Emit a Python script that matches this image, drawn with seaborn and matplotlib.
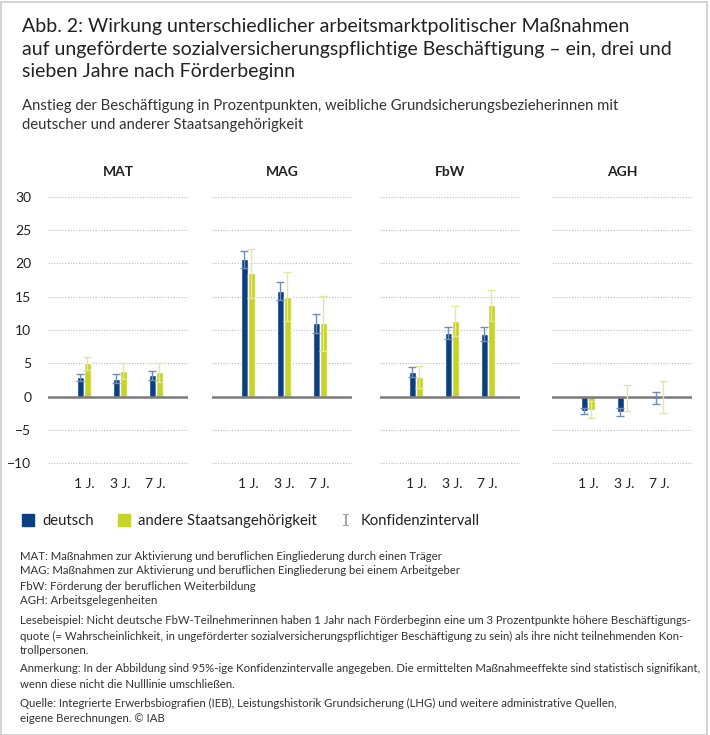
import matplotlib
matplotlib.use('Agg')
import matplotlib.pyplot as plt
import seaborn as sns
import pandas as pd
from matplotlib.lines import Line2D
from matplotlib.patches import Rectangle

# Daten
massnahmen = ["MAT", "MAG", "FbW", "AGH"]
jahre = ["1 J.", "3 J.", "7 J."]
gruppen = ["deutsch", "andere Staatsangehörigkeit"]

deutsch_wert = [2.9, 2.7, 3.2, 20.6, 15.9, 11.0, 3.7, 9.55, 9.4, -2.15, -2.3, -0.4]
deutsch_lo = [2.4, 2.1, 2.5, 19.3, 14.5, 9.6, 3.0, 8.6, 8.4, -2.65, -2.85, -1.15]
deutsch_hi = [3.4, 3.35, 3.9, 21.9, 17.25, 12.35, 4.4, 10.5, 10.4, -1.65, -1.75, 0.65]

andere_wert = [5.0, 3.85, 3.65, 18.5, 15.0, 11.0, 2.95, 11.3, 13.7, -1.95, -0.3, -0.2]
andere_lo = [4.0, 2.7, 2.2, 14.85, 11.35, 6.85, 1.35, 9.05, 11.4, -3.25, -2.2, -2.4]
andere_hi = [6.0, 5.0, 5.1, 22.15, 18.65, 15.15, 4.55, 13.55, 16.0, -0.65, 1.7, 2.35]

y_ticks = [30, 25, 20, 15, 10, 5, 0, -5, -10]

farben = ["#0b3f80", "#c5d32b"]
ci_farben = ["#6f8db8", "#e3e99a"]

rows = []
for i, m in enumerate(massnahmen):
    for j, jahr in enumerate(jahre):
        k = i * 3 + j
        rows.append((m, jahr, gruppen[0], deutsch_wert[k], deutsch_lo[k], deutsch_hi[k]))
        rows.append((m, jahr, gruppen[1], andere_wert[k], andere_lo[k], andere_hi[k]))
df = pd.DataFrame(rows, columns=["massnahme", "jahr", "gruppe", "wert", "lo", "hi"])

sns.set_style("white")
plt.rcParams['font.family'] = ['Lato', 'DejaVu Sans']
textfarbe = "#222222"

fig = plt.figure(figsize=(7.1, 7.35), dpi=100)
W, H = 710, 735

def px_axes(x0, y0, w, h):
    return fig.add_axes([x0 / W, 1 - (y0 + h) / H, w / W, h / H])

panel_x = [48, 212, 380, 552]
for i, m in enumerate(massnahmen):
    ax = px_axes(panel_x[i], 190, 140, 280)
    sub = df[df.massnahme == m]
    sns.barplot(data=sub, x="jahr", y="wert", hue="gruppe", order=jahre, hue_order=gruppen,
                palette=farben, width=0.4, errorbar=None, saturation=1, legend=False, ax=ax)
    bar_conts = list(ax.containers)
    for g, cont in enumerate(bar_conts):
        gsub = sub[sub.gruppe == gruppen[g]].set_index("jahr").loc[jahre]
        xs = [b.get_x() + b.get_width() / 2 for b in cont]
        ys = gsub["wert"].values
        err = [ys - gsub["lo"].values, gsub["hi"].values - ys]
        ax.errorbar(xs, ys, yerr=err, fmt="none", ecolor=ci_farben[g], elinewidth=1,
                    capsize=3, capthick=1, zorder=4)
    ax.set_xlim(-1.0, 2.9)
    ax.set_ylim(-11, 31)
    ax.set_yticks(y_ticks)
    for t in y_ticks:
        if t != 0:
            ax.axhline(t, color="#bbbbbb", lw=0.8, ls=(0, (1, 1.5)), zorder=0)
    ax.axhline(0, color="#7a7a7a", lw=1.8, zorder=3)
    ax.set_xlabel("")
    ax.set_ylabel("")
    ax.tick_params(length=0, labelsize=10, colors=textfarbe, pad=6)
    if i > 0:
        ax.set_yticklabels([])
    else:
        ax.tick_params(axis="y", pad=12)
    for s in ax.spines.values():
        s.set_visible(False)
    ax.set_title(m, fontsize=10, fontweight="bold", color=textfarbe, pad=10)

# Titel
fig.text(22 / W, 1 - 18 / H,
         "Abb. 2: Wirkung unterschiedlicher arbeitsmarktpolitischer Maßnahmen\n"
         "auf ungeförderte sozialversicherungspflichtige Beschäftigung – ein, drei und\n"
         "sieben Jahre nach Förderbeginn",
         fontsize=14, color=textfarbe, va="top", ha="left", linespacing=1.4)
fig.text(22 / W, 1 - 99 / H,
         "Anstieg der Beschäftigung in Prozentpunkten, weibliche Grundsicherungsbezieherinnen mit\n"
         "deutscher und anderer Staatsangehörigkeit",
         fontsize=10.7, color="#333333", va="top", ha="left", linespacing=1.45)

# Legende
handles = [
    Line2D([], [], marker="s", ls="none", markersize=9, color=farben[0]),
    Line2D([], [], marker="s", ls="none", markersize=9, color=farben[1]),
    Line2D([], [], marker="$\\mathtt{I}$", ls="none", markersize=9, color="#aaaaaa",
           markeredgewidth=0),
]
fig.legend(handles, gruppen + ["Konfidenzintervall"], loc="center left",
           bbox_to_anchor=(15 / W, 1 - 521 / H), ncol=3, frameon=False, fontsize=10.7,
           handlelength=1.0, handletextpad=0.45, columnspacing=1.5, labelcolor=textfarbe,
           borderaxespad=0)

# Fußnoten
fuss = [
    (556, "MAT: Maßnahmen zur Aktivierung und beruflichen Eingliederung durch einen Träger"),
    (571, "MAG: Maßnahmen zur Aktivierung und beruflichen Eingliederung bei einem Arbeitgeber"),
    (586, "FbW: Förderung der beruflichen Weiterbildung"),
    (601, "AGH: Arbeitsgelegenheiten"),
    (620, "Lesebeispiel: Nicht deutsche FbW-Teilnehmerinnen haben 1 Jahr nach Förderbeginn eine um 3 Prozentpunkte höhere Beschäftigungs-"),
    (636, "quote (= Wahrscheinlichkeit, in ungeförderter sozialversicherungspflichtiger Beschäftigung zu sein) als ihre nicht teilnehmenden Kon-"),
    (651, "trollpersonen."),
    (669, "Anmerkung: In der Abbildung sind 95%-ige Konfidenzintervalle angegeben. Die ermittelten Maßnahmeeffekte sind statistisch signifikant,"),
    (684, "wenn diese nicht die Nulllinie umschließen."),
    (703, "Quelle: Integrierte Erwerbsbiografien (IEB), Leistungshistorik Grundsicherung (LHG) und weitere administrative Quellen,"),
    (718, "eigene Berechnungen. © IAB"),
]
for y, t in fuss:
    fig.text(20 / W, 1 - y / H, t, fontsize=8.2, color="#333333", va="center", ha="left")

# Rahmen
fig.patches.append(Rectangle((0.5 / W, 0.5 / H), 1 - 4 / W, 1 - 2 / H, transform=fig.transFigure,
                             fill=False, edgecolor="#cccccc", lw=1.2))

fig.savefig("out.png", dpi=100)
